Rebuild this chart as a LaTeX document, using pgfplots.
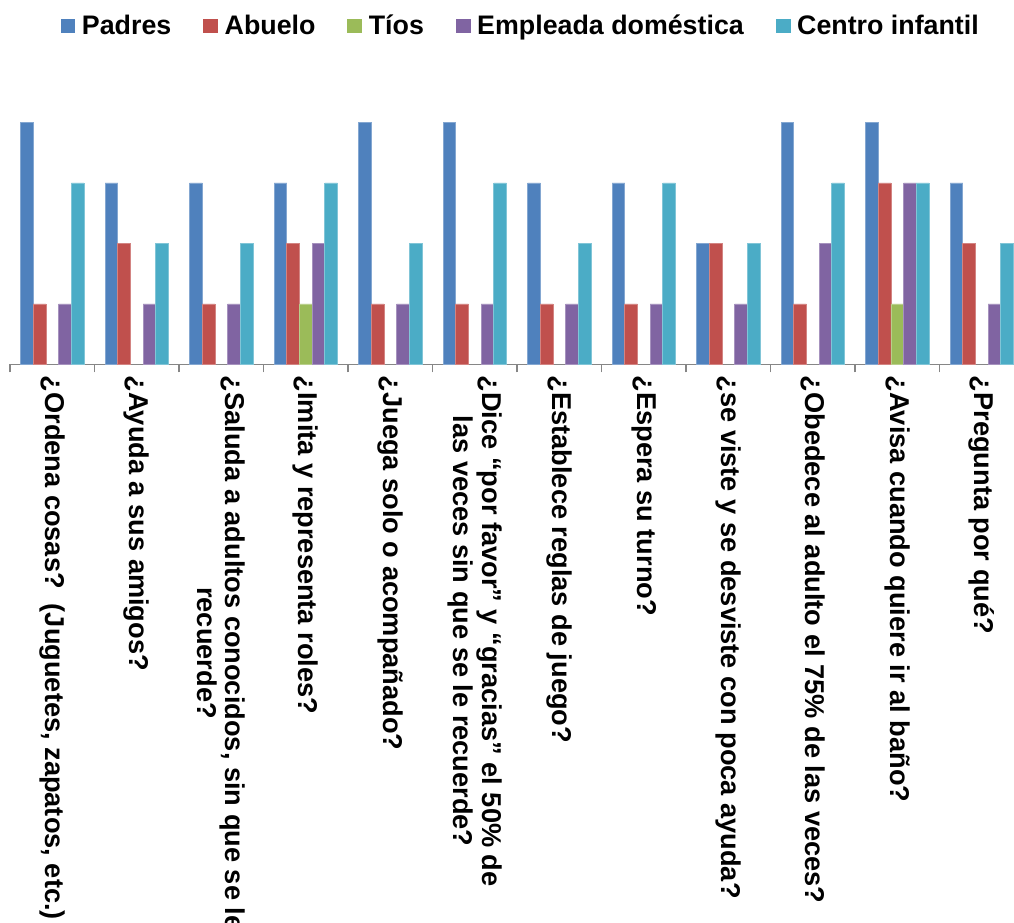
\documentclass[border=0pt]{standalone}
\usepackage{pgfplots}
\pgfplotsset{compat=1.18}
\usepackage{fontspec}
\setmainfont{Liberation Sans}

\definecolor{cPad}{HTML}{4F81BD}
\definecolor{cAbu}{HTML}{C0504D}
\definecolor{cTio}{HTML}{9BBB59}
\definecolor{cEmp}{HTML}{8064A2}
\definecolor{cCen}{HTML}{4BACC6}
\definecolor{axgray}{HTML}{868686}

\begin{document}
\begin{tikzpicture}
\begin{axis}[
    at={(7.5pt,419pt)}, anchor=south west,
    scale only axis,
    width=760.5pt, height=204.2pt,
    xmin=-0.5, xmax=11.5, ymin=0, ymax=4.5,
    enlargelimits=false,
    ybar=0pt, bar width=9.5pt,
    axis x line*=bottom, axis y line=none,
    axis line style={draw=axgray, line width=0.9pt},
    xtick={0,...,11},
    major tick length=0pt,
    minor xtick={-0.5,0.5,...,11.5},
    minor tick length=6pt,
    tick align=outside,
    minor tick style={draw=axgray, line width=0.9pt},
    ytick=\empty,
    xticklabels={
        {¿Ordena cosas?\ \ (Juguetes, zapatos, etc.)},
        {¿Ayuda a sus amigos?},
        {¿Saluda a adultos conocidos, sin que se le\\recuerde?},
        {¿Imita y representa roles?},
        {¿Juega solo o acompañado?},
        {¿Dice “por favor” y “gracias” el 50\% de\\las veces sin que se le recuerde?},
        {¿Establece reglas de juego?},
        {¿Espera su turno?},
        {¿se viste y se desviste con poca ayuda?},
        {¿Obedece al adulto el 75\% de las veces?},
        {¿Avisa cuando quiere ir al baño?},
        {¿Pregunta por qué?}
    },
    xticklabel shift=5pt,
    xticklabel style={rotate=-90, anchor=west, align=center,
        font=\fontsize{20.4}{21.5}\selectfont\bfseries},
    every axis plot post/.append style={
        legend image code/.code={\fill[##1,draw=none] (0pt,-5.5pt) rectangle (11pt,5.5pt);}},
    legend columns=-1,
    legend style={at={(0.504,1.2426)}, anchor=center, draw=none,
        font=\fontsize{20.1}{21}\selectfont\bfseries,
        /tikz/every odd column/.append style={column sep=3pt},
        /tikz/every even column/.append style={column sep=22pt}},
]
    % Padres
    \addplot[fill=cPad, draw=cPad!70!white, line width=0.4pt] coordinates {
        (0,4) (1,3) (2,3) (3,3) (4,4) (5,4) (6,3) (7,3) (8,2) (9,4) (10,4) (11,3)
    };
    % Abuelo
    \addplot[fill=cAbu, draw=cAbu!70!white, line width=0.4pt] coordinates {
        (0,1) (1,2) (2,1) (3,2) (4,1) (5,1) (6,1) (7,1) (8,2) (9,1) (10,3) (11,2)
    };
    % Tios (only where not zero)
    \addplot[fill=cTio, draw=cTio!70!white, line width=0.4pt] coordinates {
        (3,1) (10,1)
    };
    % Empleada domestica
    \addplot[fill=cEmp, draw=cEmp!70!white, line width=0.4pt] coordinates {
        (0,1) (1,1) (2,1) (3,2) (4,1) (5,1) (6,1) (7,1) (8,1) (9,2) (10,3) (11,1)
    };
    % Centro infantil
    \addplot[fill=cCen, draw=cCen!70!white, line width=0.4pt] coordinates {
        (0,3) (1,2) (2,2) (3,3) (4,2) (5,3) (6,2) (7,3) (8,2) (9,3) (10,3) (11,2)
    };
    \legend{Padres, Abuelo, Tíos, Empleada doméstica, Centro infantil}
\end{axis}
\pgfresetboundingbox
\path[use as bounding box] (0,0) rectangle (760.5pt,692.25pt);
\end{tikzpicture}
\end{document}
